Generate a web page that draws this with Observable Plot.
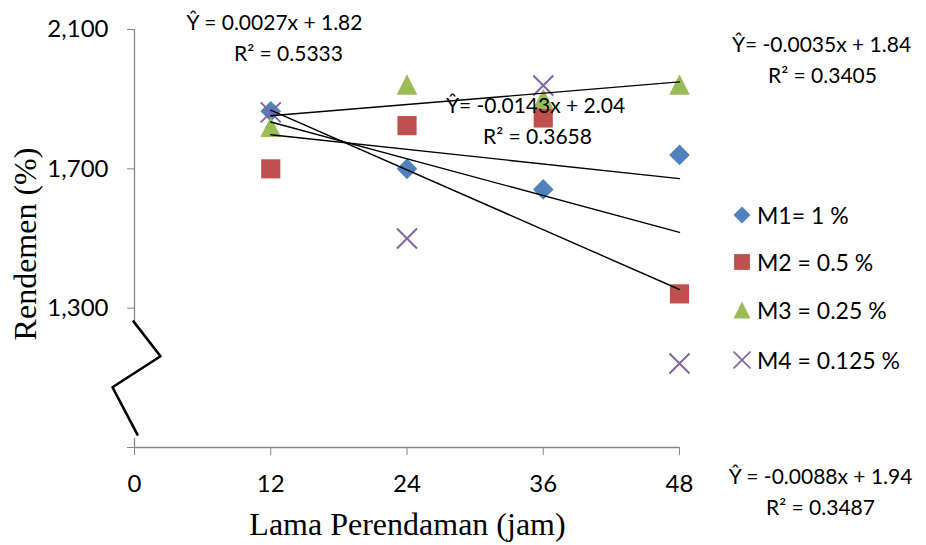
<!DOCTYPE html>
<html>
<head>
<meta charset="utf-8">
<script src="https://cdn.jsdelivr.net/npm/d3@7"></script>
<script src="https://cdn.jsdelivr.net/npm/@observablehq/plot@0.6"></script>
<style>
  body { margin: 0; background: #fff; }
  #chart { position: relative; width: 926px; height: 545px; font-family: Lato, sans-serif; }
  #legend { position: absolute; left: 0; top: 0; }
  .row { position: absolute; display: flex; align-items: center; height: 30px; font-size: 23px; color: #000; white-space: pre; }
  .row svg { display: block; }
</style>
</head>
<body>
<div id="chart"></div>
<script>
// Soaking time (hours) and yield for each treatment
const hours = [12, 24, 36, 48];
const seriesNames = ["M1= 1 %", "M2 = 0.5 %", "M3 = 0.25 %", "M4 = 0.125 %"];
const m1 = [1865, 1700, 1641, 1740];
const m2 = [1700, 1824, 1846, 1341];
const m3 = [1821, 1942, 1901, 1942];
const m4 = [1862, 1500, 1939, 1141];
// Linear trend for each series: Ŷ = slope·x + intercept (in thousands)
const slopes = [-0.0035, -0.0088, 0.0027, -0.0143];
const intercepts = [1.84, 1.94, 1.82, 2.04];
const rSquared = [0.3405, 0.3487, 0.5333, 0.3658];
const xTicks = [0, 12, 24, 36, 48];
const yTicks = [900, 1300, 1700, 2100];

const seriesValues = [m1, m2, m3, m4];
const colors = ["#4F81BD", "#C0504D", "#9BBB59", "#8064A2"];
const axisGray = "#868686";

// Marker shapes
const unit = (size) => Math.sqrt(size / Math.PI);
const diamond = { draw(c, s) { const r = unit(s); c.moveTo(0, -r); c.lineTo(r, 0); c.lineTo(0, r); c.lineTo(-r, 0); c.closePath(); } };
const square = { draw(c, s) { const r = unit(s) * 0.93; c.rect(-r, -r, 2 * r, 2 * r); } };
const triangle = { draw(c, s) { const r = unit(s); c.moveTo(0, -r); c.lineTo(r, r); c.lineTo(-r, r); c.closePath(); } };
const times = { draw(c, s) { const r = unit(s); c.moveTo(-r, -r); c.lineTo(r, r); c.moveTo(r, -r); c.lineTo(-r, r); } };
const symbols = [diamond, square, triangle, times];

const margin = { left: 134, right: 247, top: 29, bottom: 98 };
const fmt = d3.format(",");

const markerMarks = seriesValues.map((vals, i) => {
  const rows = hours.map((h, j) => ({ x: h, y: vals[j] }));
  return i === 3
    ? Plot.dot(rows, { x: "x", y: "y", r: 10, symbol: symbols[i], fill: "none", stroke: colors[i], strokeWidth: 2 })
    : Plot.dot(rows, { x: "x", y: "y", r: 10.3, symbol: symbols[i], fill: colors[i], stroke: "none" });
});

const trendMarks = seriesValues.map((_, i) =>
  Plot.line([hours[0], hours[hours.length - 1]].map(x => ({ x, y: (slopes[i] * x + intercepts[i]) * 1000 })),
    { x: "x", y: "y", stroke: "black", strokeWidth: 1.4 })
);

// Equation labels: line centres and baselines in pixels
const eqFont = 21;
const eqGap = ["= ", " = ", " = ", "= "];
const eqPlace = [
  { cx1: 821, b1: 51, cx2: 822, b2: 82 },
  { cx1: 820, b1: 483, cx2: 820, b2: 514 },
  { cx1: 274, b1: 29, cx2: 288, b2: 60 },
  { cx1: 535, b1: 112, cx2: 537, b2: 143 }
];
const labelMark = (text, cx, baseline, fontSize, extra = {}) =>
  Plot.text([text], {
    text: d => d, frameAnchor: "top-left", textAnchor: "middle", lineAnchor: "middle",
    dx: cx - margin.left, dy: baseline - 0.32 * fontSize - margin.top,
    fontSize, fill: "black", ...extra
  });
const eqMarks = slopes.flatMap((s, i) => [
  labelMark(`Ŷ${eqGap[i]}${s.toFixed(4)}x + ${intercepts[i].toFixed(2)}`, eqPlace[i].cx1, eqPlace[i].b1, eqFont),
  labelMark(`R² = ${rSquared[i].toFixed(4)}`, eqPlace[i].cx2, eqPlace[i].b2, eqFont)
]);

// Zig-zag break drawn across the lower part of the y axis
const axisBreak = [
  { x: -0.09, y: 1262 }, { x: 2.29, y: 1162 }, { x: -1.94, y: 1073 }, { x: 0.26, y: 937 }
];

const chart = Plot.plot({
  width: 926,
  height: 545,
  marginLeft: margin.left,
  marginRight: margin.right,
  marginTop: margin.top,
  marginBottom: margin.bottom,
  style: { fontFamily: "Lato, sans-serif", background: "white", color: "black" },
  x: { domain: [0, 48] },
  y: { domain: [900, 2100] },
  marks: [
    Plot.ruleX([0], { y1: 1262, y2: 2100, stroke: axisGray, strokeWidth: 1.3 }),
    Plot.ruleX([0], { y1: 900, y2: 926, stroke: axisGray, strokeWidth: 1.3 }),
    Plot.ruleY([900], { x1: 0, x2: 48, stroke: axisGray, strokeWidth: 1.3 }),
    Plot.axisY({ ticks: yTicks, tickFormat: d => d === 900 ? "" : fmt(d), tickSize: 7, tickPadding: 19,
      fontSize: 24, stroke: axisGray, fill: "black", label: null }),
    Plot.axisX({ ticks: xTicks, tickFormat: d => String(d), tickSize: 8, tickPadding: 19,
      fontSize: 24, stroke: axisGray, fill: "black", label: null }),
    Plot.line(axisBreak, { x: "x", y: "y", stroke: "black", strokeWidth: 2.6 }),
    ...markerMarks,
    ...trendMarks,
    ...eqMarks,
    labelMark("Lama Perendaman (jam)", 407, 534, 32, { fontFamily: "Liberation Serif, serif" }),
    Plot.text(["Rendemen (%)"], {
      text: d => d, frameAnchor: "top-left", rotate: -90, textAnchor: "middle", lineAnchor: "middle",
      dx: 25 - margin.left, dy: 243.5 - margin.top, fontSize: 32, fontFamily: "Liberation Serif, serif", fill: "black"
    })
  ]
});

const root = document.getElementById("chart");
root.appendChild(chart);

// Legend on the right
const legend = document.createElement("div");
legend.id = "legend";
const rowCentres = [215, 262, 310, 360];
seriesNames.forEach((name, i) => {
  const row = document.createElement("div");
  row.className = "row";
  row.style.left = "733px";
  row.style.top = (rowCentres[i] - 15) + "px";
  const svg = d3.create("svg").attr("width", 18).attr("height", 18).style("margin-right", "6px");
  const path = d3.symbol(symbols[i], Math.PI * 8.5 * 8.5)();
  const g = svg.append("path").attr("d", path).attr("transform", "translate(9,9)");
  if (i === 3) g.attr("fill", "none").attr("stroke", colors[i]).attr("stroke-width", 1.6);
  else g.attr("fill", colors[i]);
  row.appendChild(svg.node());
  row.appendChild(document.createTextNode(name));
  legend.appendChild(row);
});
root.appendChild(legend);
</script>
</body>
</html>
